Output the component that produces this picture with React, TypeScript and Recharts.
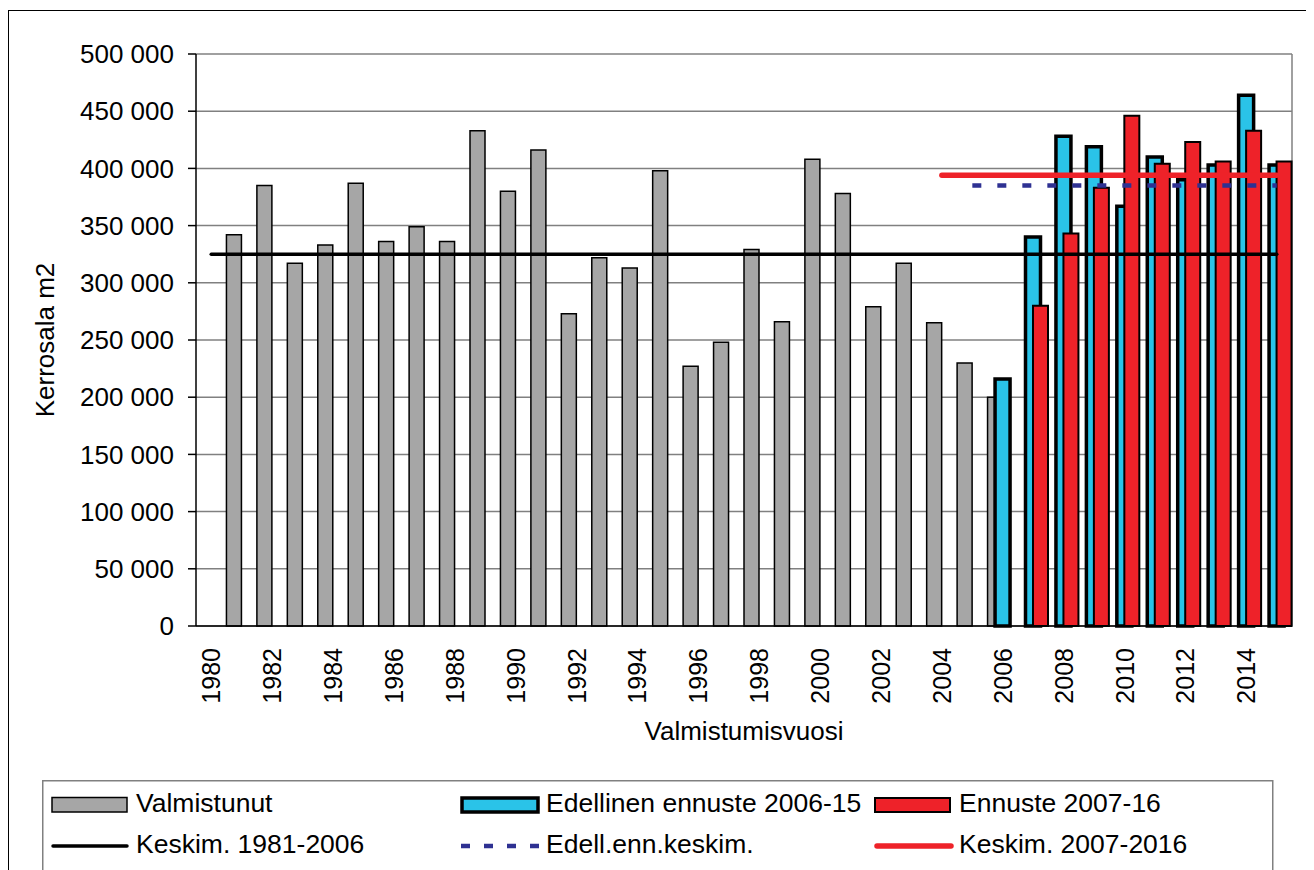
import { ComposedChart, Bar, Line, XAxis, YAxis, CartesianGrid } from "recharts";

const FONT = "'Liberation Sans', Arial, sans-serif";

const years = [
  "1980", "1981", "1982", "1983", "1984", "1985", "1986", "1987", "1988", "1989",
  "1990", "1991", "1992", "1993", "1994", "1995", "1996", "1997", "1998", "1999",
  "2000", "2001", "2002", "2003", "2004", "2005", "2006", "2007", "2008", "2009",
  "2010", "2011", "2012", "2013", "2014", "2015",
];

// Valmistunut 1981-2006
const valmistunut = [
  null, 342000, 385000, 317000, 333000, 387000, 336000, 349000, 336000, 433000,
  380000, 416000, 273000, 322000, 313000, 398000, 227000, 248000, 329000, 266000,
  408000, 378000, 279000, 317000, 265000, 230000, 200000, null, null, null,
  null, null, null, null, null, null,
];

// Edellinen ennuste 2006-15
const edellinen = [
  null, null, null, null, null, null, null, null, null, null,
  null, null, null, null, null, null, null, null, null, null,
  null, null, null, null, null, null, 216000, 340000, 428000, 419000,
  367000, 410000, 390000, 403000, 464000, 403000,
];

// Ennuste 2007-16
const ennuste = [
  null, null, null, null, null, null, null, null, null, null,
  null, null, null, null, null, null, null, null, null, null,
  null, null, null, null, null, null, null, 280000, 343000, 383000,
  446000, 404000, 423000, 406000, 433000, 406000,
];

// Keskim. 1981-2006
const keskimPast = [
  325000, 325000, 325000, 325000, 325000, 325000, 325000, 325000, 325000, 325000,
  325000, 325000, 325000, 325000, 325000, 325000, 325000, 325000, 325000, 325000,
  325000, 325000, 325000, 325000, 325000, 325000, 325000, 325000, 325000, 325000,
  325000, 325000, 325000, 325000, 325000, 325000,
];

// Edell.enn.keskim.
const keskimEdell = [
  null, null, null, null, null, null, null, null, null, null,
  null, null, null, null, null, null, null, null, null, null,
  null, null, null, null, null, 385000, 385000, 385000, 385000, 385000,
  385000, 385000, 385000, 385000, 385000, 385000,
];

// Keskim. 2007-2016
const keskimEnnuste = [
  null, null, null, null, null, null, null, null, null, null,
  null, null, null, null, null, null, null, null, null, null,
  null, null, null, null, 394000, 394000, 394000, 394000, 394000, 394000,
  394000, 394000, 394000, 394000, 394000, 394000,
];

const yTicks = [0, 50000, 100000, 150000, 200000, 250000, 300000, 350000, 400000, 450000, 500000];

const data = years.map((year, i) => ({
  year,
  valmistunut: valmistunut[i],
  edellinen: edellinen[i],
  ennuste: ennuste[i],
  keskimPast: keskimPast[i],
  keskimEdell: keskimEdell[i],
  keskimEnnuste: keskimEnnuste[i],
}));

const fmt = (v: number) => String(v).replace(/\B(?=(\d{3})+(?!\d))/g, " ");

function YearTick(props: any) {
  const { x, y, payload } = props;
  return (
    <text
      x={x}
      y={y}
      transform={`rotate(-90 ${x} ${y})`}
      textAnchor="end"
      dominantBaseline="central"
      fontSize={25}
      fontFamily={FONT}
      fill="#000"
    >
      {payload.value}
    </text>
  );
}

function YLabel(props: any) {
  const vb = props.viewBox;
  const cx = vb.x - 1;
  const cy = vb.y + vb.height / 2;
  return (
    <text
      x={cx}
      y={cy}
      transform={`rotate(-90 ${cx} ${cy})`}
      textAnchor="middle"
      dominantBaseline="central"
      fontSize={26}
      fontFamily={FONT}
      fill="#000"
    >
      Kerrosala m2
    </text>
  );
}

function ChartLegend() {
  const txt = { fontSize: 26.5, fontFamily: FONT, fill: "#000" };
  return (
    <svg width={1233} height={100} style={{ position: "absolute", left: 34, top: 772 }}>
      <rect x={0.75} y={0.75} width={1230} height={110} fill="#fff" stroke="#808080" strokeWidth={1.5} />
      {/* row 1 */}
      <rect x={10} y={17.5} width={75} height={14.5} fill="#a6a6a6" stroke="#000" strokeWidth={1.5} />
      <text x={94} y={32} {...txt}>Valmistunut</text>
      <rect x={420} y={18} width={76} height={14} fill="#2ac3e8" stroke="#000" strokeWidth={3.5} />
      <text x={504} y={32} {...txt}>Edellinen ennuste 2006-15</text>
      <rect x={833} y={18} width={75} height={14} fill="#ee2229" stroke="#000" strokeWidth={2} />
      <text x={917} y={32} {...txt}>Ennuste 2007-16</text>
      {/* row 2 */}
      <line x1={11} y1={66} x2={85} y2={66} stroke="#000" strokeWidth={3.5} strokeLinecap="round" />
      <text x={94} y={73} {...txt}>Keskim. 1981-2006</text>
      <line x1={419} y1={66} x2={498} y2={66} stroke="#2e3192" strokeWidth={4.5} strokeDasharray="9 14" />
      <text x={504} y={73} {...txt}>Edell.enn.keskim.</text>
      <line x1={835} y1={66} x2={909} y2={66} stroke="#ee2229" strokeWidth={5.5} strokeLinecap="round" />
      <text x={917} y={73} {...txt}>Keskim. 2007-2016</text>
    </svg>
  );
}

export default function App() {
  return (
    <div style={{ position: "relative", width: 1298, height: 862, fontFamily: FONT }}>
      <style>{`html { overflow: hidden; }`}</style>
      <div
        style={{
          position: "absolute",
          left: 0,
          top: 2,
          width: 1304,
          height: 900,
          boxSizing: "border-box",
          border: "1.5px solid #000",
        }}
      />
      <div style={{ position: "absolute", left: 0, top: 0 }}>
        <ComposedChart
          width={1300}
          height={760}
          data={data}
          margin={{ top: 46, right: 16, bottom: 17, left: 38 }}
          barSize={15}
          barGap={-7.5}
          barCategoryGap={0}
        >
          <CartesianGrid
            stroke="#808080"
            strokeWidth={1.5}
            verticalCoordinatesGenerator={({ offset }: any) => [offset.left + offset.width]}
          />
          <XAxis
            dataKey="year"
            interval={1}
            tickLine={false}
            tickSize={0}
            tickMargin={22}
            tick={<YearTick />}
            axisLine={{ stroke: "#000", strokeWidth: 1.5 }}
            height={125}
            label={{
              value: "Valmistumisvuosi",
              position: "insideBottom",
              offset: 11,
              fill: "#000",
              fontSize: 26,
              fontFamily: FONT,
            }}
          />
          <YAxis
            domain={[0, 500000]}
            ticks={yTicks}
            width={150}
            tickFormatter={fmt}
            tick={{ fill: "#000", fontSize: 26, fontFamily: FONT }}
            tickSize={8}
            tickMargin={14}
            tickLine={{ stroke: "#000", strokeWidth: 1.5 }}
            axisLine={{ stroke: "#000", strokeWidth: 1.5 }}
            label={<YLabel />}
          />
          <Bar dataKey="valmistunut" name="Valmistunut" fill="#a6a6a6" stroke="#000" strokeWidth={1.5} isAnimationActive={false} />
          <Bar dataKey="edellinen" name="Edellinen ennuste 2006-15" fill="#2ac3e8" stroke="#000" strokeWidth={3.5} isAnimationActive={false} />
          <Bar dataKey="ennuste" name="Ennuste 2007-16" fill="#ee2229" stroke="#000" strokeWidth={2} isAnimationActive={false} />
          <Line dataKey="keskimPast" name="Keskim. 1981-2006" stroke="#000" strokeWidth={3.5} strokeLinecap="round" dot={false} activeDot={false} isAnimationActive={false} />
          <Line dataKey="keskimEdell" name="Edell.enn.keskim." stroke="#2e3192" strokeWidth={4.5} strokeDasharray="9 16" dot={false} activeDot={false} isAnimationActive={false} />
          <Line dataKey="keskimEnnuste" name="Keskim. 2007-2016" stroke="#ee2229" strokeWidth={5.5} strokeLinecap="round" dot={false} activeDot={false} isAnimationActive={false} />
        </ComposedChart>
      </div>
      <ChartLegend />
    </div>
  );
}
